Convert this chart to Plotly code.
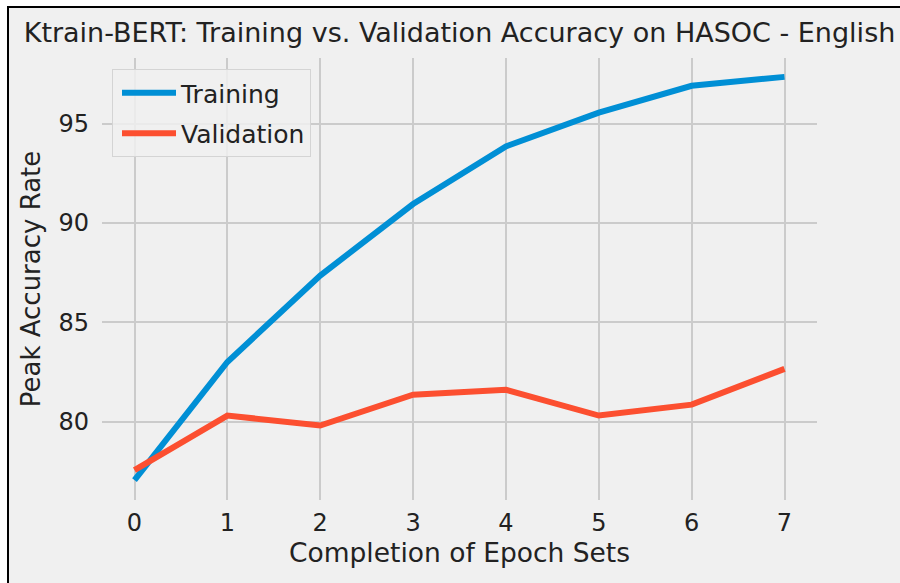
import plotly.graph_objects as go

epochs = [0, 1, 2, 3, 4, 5, 6, 7]
training_acc = [77.05, 83.0, 87.35, 90.95, 93.85, 95.55, 96.9, 97.35]
validation_acc = [77.55, 80.3, 79.8, 81.35, 81.6, 80.3, 80.85, 82.65]
x_ticks = [0, 1, 2, 3, 4, 5, 6, 7]
y_ticks = [80, 85, 90, 95]

FONT = "DejaVu Sans"
TXT = "#222222"
BG = "#f0f0f0"
GRID = "#cbcbcb"

W, H = 900, 583
ML, MR, MT, MB = 102, 83, 58, 83
PW, PH = W - ML - MR, H - MT - MB


def px_to_paper_x(px):
    return (px - ML) / PW


def px_to_paper_y(py):
    return (H - MB - py) / PH


fig = go.Figure()
fig.add_trace(go.Scatter(x=epochs, y=training_acc, mode="lines", name="Training",
                         legendgroup="a",
                         line=dict(color="#008fd5", width=6)))
fig.add_trace(go.Scatter(x=epochs, y=validation_acc, mode="lines", name="Validation",
                         legendgroup="b",
                         line=dict(color="#fc4f30", width=6)))

fig.add_shape(type="rect", xref="paper", yref="paper", layer="below",
              x0=px_to_paper_x(8), x1=px_to_paper_x(W + 10),
              y0=px_to_paper_y(H + 10), y1=px_to_paper_y(7),
              line=dict(color="black", width=2), fillcolor=BG)

fig.update_layout(
    width=W, height=H,
    margin=dict(l=ML, r=MR, t=MT, b=MB, autoexpand=False),
    paper_bgcolor="white",
    plot_bgcolor=BG,
    font=dict(family=FONT, color=TXT, size=24),
    title=dict(text="Ktrain-BERT: Training vs. Validation Accuracy on HASOC - English",
               x=0.5, xref="paper", xanchor="center",
               y=1 - 33 / H, yref="container", yanchor="middle",
               font=dict(family=FONT, size=27, color=TXT)),
    xaxis=dict(range=[-0.35, 7.35], tickvals=x_ticks, showgrid=True, gridcolor=GRID,
               gridwidth=1.5, zeroline=False, showline=False, ticks="",
               ticklabelstandoff=6, tickfont=dict(size=24),
               title=dict(text="Completion of Epoch Sets", font=dict(size=26.5), standoff=6)),
    yaxis=dict(range=[76.05, 98.3], tickvals=y_ticks, showgrid=True, gridcolor=GRID,
               gridwidth=1.5, zeroline=False, showline=False, ticks="",
               ticklabelstandoff=12, tickfont=dict(size=24),
               title=dict(text="Peak Accuracy Rate", font=dict(size=26), standoff=10)),
    legend=dict(x=px_to_paper_x(112), y=px_to_paper_y(69), xanchor="left", yanchor="top",
                bgcolor="rgba(240,240,240,0.85)", bordercolor="#d4d4d4", borderwidth=1,
                font=dict(size=25, family=FONT, color=TXT), itemwidth=54,
                indentation=4, tracegroupgap=5),
    showlegend=True,
)

fig.write_html("out.html", config={"displayModeBar": False},
               post_script="document.body.style.margin='0';document.body.style.overflow='hidden';")
